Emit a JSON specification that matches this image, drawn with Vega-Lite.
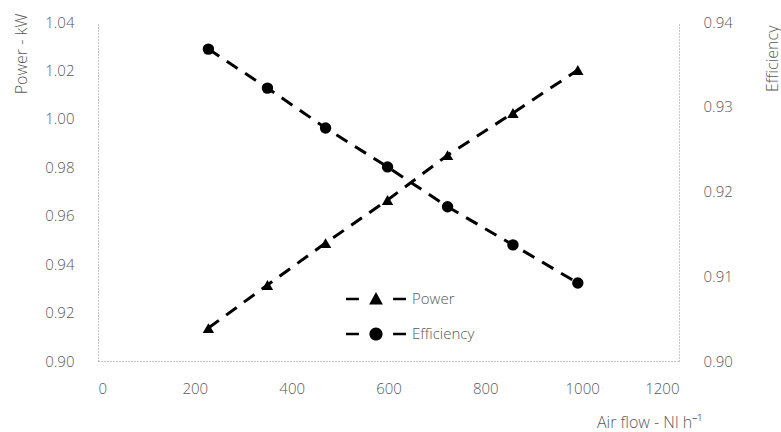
{
  "$schema": "https://vega.github.io/schema/vega-lite/v6.json",
  "width": 581,
  "height": 339,
  "autosize": "none",
  "padding": {"left": 98, "top": 22, "right": 102, "bottom": 71},
  "background": "white",
  "config": {
    "view": {"stroke": null},
    "font": "Open Sans",
    "axis": {
      "grid": false,
      "ticks": false,
      "domainColor": "#8c8c8c",
      "domainDash": [1, 2],
      "domainWidth": 1,
      "labelColor": "#595959",
      "labelFontSize": 15,
      "labelFontWeight": 300,
      "titleColor": "#595959",
      "titleFontSize": 16,
      "titleFontWeight": 300
    },
    "legend": {
      "labelColor": "#595959",
      "labelFontSize": 15,
      "labelFontWeight": 300
    }
  },
  "data": {
    "values": [
      {"airflow": 228, "power": 0.9136, "efficiency": 0.9368},
      {"airflow": 350, "power": 0.9314, "efficiency": 0.9322},
      {"airflow": 470, "power": 0.9487, "efficiency": 0.9275},
      {"airflow": 598, "power": 0.9665, "efficiency": 0.9229},
      {"airflow": 722, "power": 0.985, "efficiency": 0.9182},
      {"airflow": 857, "power": 1.0024, "efficiency": 0.9137},
      {"airflow": 991, "power": 1.0202, "efficiency": 0.9092}
    ]
  },
  "encoding": {
    "x": {
      "field": "airflow",
      "type": "quantitative",
      "scale": {"domain": [0, 1200], "nice": false},
      "axis": {
        "values": [0, 200, 400, 600, 800, 1000, 1200],
        "format": "d",
        "labelPadding": 20,
        "title": "Air flow - Nl h⁻¹",
        "titleAnchor": "end",
        "titleAlign": "right",
        "titleBaseline": "alphabetic",
        "titleX": 604,
        "titleY": 66
      }
    }
  },
  "layer": [
    {
      "encoding": {
        "y": {
          "field": "power",
          "type": "quantitative",
          "scale": {"domain": [0.9, 1.04], "nice": false, "zero": false},
          "axis": {
            "orient": "left",
            "values": [0.9, 0.92, 0.94, 0.96, 0.98, 1.0, 1.02, 1.04],
            "format": ".2f",
            "labelPadding": 24,
            "title": "Power - kW",
            "titleAngle": -90,
            "titleAlign": "right",
            "titleBaseline": "alphabetic",
            "titleAnchor": "end",
            "titleX": -72,
            "titleY": -9
          }
        }
      },
      "layer": [
        {
          "mark": {"type": "line", "color": "black", "strokeWidth": 3, "strokeDash": [13, 9]},
          "encoding": {}
        },
        {
          "mark": {"type": "point", "shape": "triangle-up", "filled": true, "color": "black", "opacity": 1, "size": 130},
          "encoding": {}
        },
        {
          "transform": [{"filter": "false"}],
          "mark": {"type": "point", "filled": true, "color": "black", "opacity": 1},
          "encoding": {
            "shape": {
              "datum": "Power",
              "scale": {
                "domain": ["Power", "Efficiency"],
                "range": [
                  "M-2,-0.09H-1.14V0.09H-2ZM1.14,-0.09H2V0.09H1.14ZM0,-0.46L0.46,0.36L-0.46,0.36Z",
                  "M-2,-0.09H-1.14V0.09H-2ZM1.14,-0.09H2V0.09H1.14ZM-0.44,0A0.44,0.44,0,1,1,0.44,0A0.44,0.44,0,1,1,-0.44,0Z"
                ]
              },
              "legend": {
                "title": null,
                "orient": "none",
                "legendX": 262,
                "legendY": 261,
                "symbolSize": 900,
                "symbolFillColor": "black",
                "symbolOpacity": 1,
                "labelOffset": 20,
                "rowPadding": 10,
                "padding": 0
              }
            }
          }
        }
      ]
    },
    {
      "encoding": {
        "y": {
          "field": "efficiency",
          "type": "quantitative",
          "scale": {"domain": [0.9, 0.94], "nice": false, "zero": false},
          "axis": {
            "orient": "right",
            "values": [0.9, 0.91, 0.92, 0.93, 0.94],
            "format": ".2f",
            "labelPadding": 24,
            "title": "Efficiency",
            "titleAngle": -90,
            "titleAlign": "right",
            "titleBaseline": "alphabetic",
            "titleAnchor": "end",
            "titleX": 98,
            "titleY": 3
          }
        }
      },
      "layer": [
        {
          "mark": {"type": "line", "color": "black", "strokeWidth": 3, "strokeDash": [13, 9]},
          "encoding": {}
        },
        {
          "mark": {"type": "point", "shape": "circle", "filled": true, "color": "black", "opacity": 1, "size": 130},
          "encoding": {}
        },
        {
          "transform": [{"filter": "false"}],
          "mark": {"type": "point", "filled": true, "color": "black", "opacity": 1},
          "encoding": {
            "shape": {"datum": "Efficiency"}
          }
        }
      ]
    }
  ],
  "resolve": {"scale": {"y": "independent"}}
}
